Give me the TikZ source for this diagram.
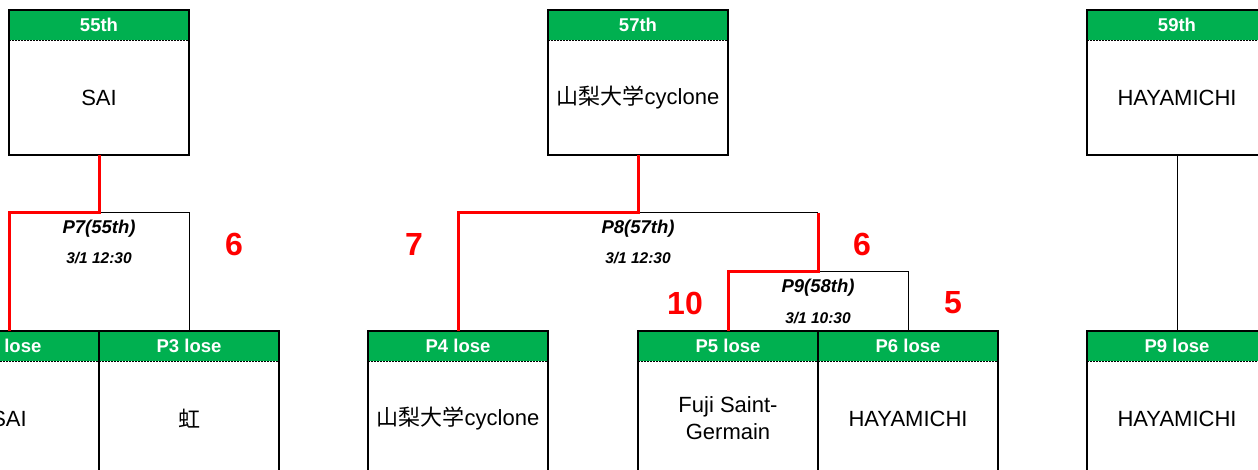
\documentclass[tikz,border=0pt]{standalone}
\usepackage{fontspec}
\setmainfont{Liberation Sans}
\newfontfamily\jp{Noto Sans CJK JP}
\definecolor{xgreen}{HTML}{00B050}
\tikzset{
 hdr/.style={fill=xgreen, text=white, font=\fontsize{18.5}{20}\selectfont\bfseries, minimum width=180pt, minimum height=30pt, inner sep=0pt, anchor=north},
 body/.style={font=\fontsize{22}{27}\selectfont, minimum width=180pt, minimum height=114pt, inner sep=0pt, anchor=north, align=center},
 frame/.style={line width=2.5pt},
 sep/.style={line width=0.5pt, dash pattern=on 2pt off 1pt},
 win/.style={red, line width=3pt},
 lose/.style={black, line width=1pt},
 score/.style={text=red, font=\fontsize{32}{32}\selectfont\bfseries},
 match/.style={font=\fontsize{18.5}{18.5}\selectfont\bfseries\itshape},
 when/.style={font=\fontsize{15.5}{15.5}\selectfont\bfseries\itshape},
}
\newcommand\teambox[5]{%
 \node[hdr] (h#1) at (#2,#3) {#4};
 \node[body] (b#1) at (h#1.south) {#5};
 \draw[sep] (h#1.south west) -- (h#1.south east);
 \draw[frame] (h#1.north west) rectangle (b#1.south east);
}
\begin{document}
\begin{tikzpicture}[x=1pt,y=-1pt]
\useasboundingbox (0,0) rectangle (1258,470);
\clip (0,0) rectangle (1258,470);
\teambox{55}{99}{10}{55th}{SAI}
\teambox{57}{638}{10}{57th}{{\jp 山梨大学}cyclone}
\teambox{59}{1177}{10}{59th}{HAYAMICHI}
\teambox{2}{9}{331}{P2 lose}{SAI}
\teambox{3}{189}{331}{P3 lose}{{\jp 虹}}
\teambox{4}{458}{331}{P4 lose}{{\jp 山梨大学}cyclone}
\teambox{5}{728}{331}{P5 lose}{Fuji Saint-\\Germain}
\teambox{6}{908}{331}{P6 lose}{HAYAMICHI}
\teambox{9}{1177}{331}{P9 lose}{HAYAMICHI}
\coordinate (m7) at (99,213);
\coordinate (m8) at (638,213);
\coordinate (r8) at (818,213);
\coordinate (m9) at (818,272);
\draw[lose] (m7) -| (h3.north);
\draw[win] (b55.south) -- (m7) -| (h2.north);
\draw[lose] (m8) -- (r8);
\draw[win] (b57.south) -- (m8) -| (h4.north);
\draw[lose] (m9) -| (h6.north);
\draw[win] (r8) -- (m9) -| (h5.north);
\draw[lose] (b59.south) -- (h9.north);
\node[match] (l7) at (99,229) {P7(55th)};
\node[when] (d7) at (99,258) {3/1 12:30};
\node[score] (s7) at (234,244) {6};
\node[score] (s4) at (414,244) {7};
\node[match] (l8) at (638,229) {P8(57th)};
\node[when] (d8) at (638,258) {3/1 12:30};
\node[score] (s8) at (862,244) {6};
\node[score] (s5) at (685,303) {10};
\node[match] (l9) at (818,288) {P9(58th)};
\node[when] (d9) at (818,318) {3/1 10:30};
\node[score] (s6) at (953,303) {5};
\end{tikzpicture}
\end{document}
